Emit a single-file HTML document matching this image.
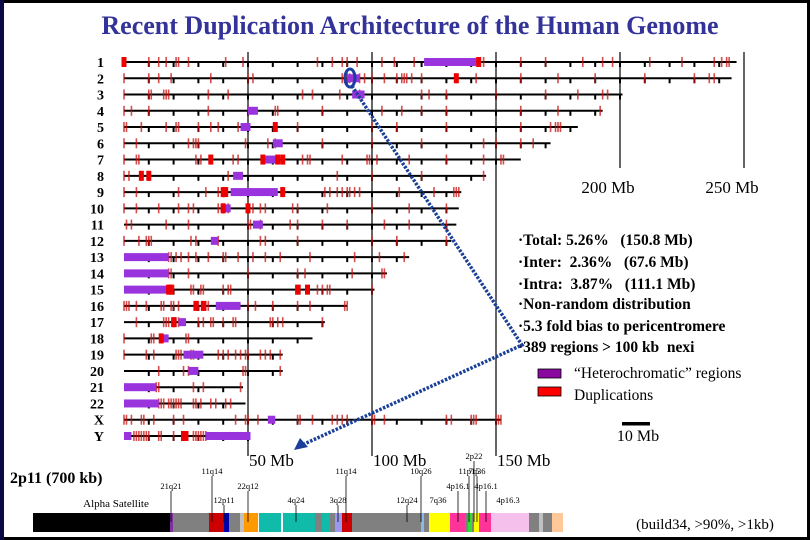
<!DOCTYPE html>
<html><head><meta charset="utf-8"><style>
body{margin:0;background:#fff}
svg{display:block}
text{font-family:"Liberation Serif",serif;white-space:pre}
</style></head><body>
<svg id="chart" width="810" height="540" viewBox="0 0 810 540" xmlns="http://www.w3.org/2000/svg" xml:space="preserve">
<rect x="1.5" y="1.5" width="807" height="537" fill="#fff" stroke="#000" stroke-width="3"/>
<rect x="0" y="0" width="4" height="540" fill="#0a0a40"/>
<text x="410" y="34" text-anchor="middle" font-size="26" font-weight="bold" fill="#333399">Recent Duplication Architecture of the Human Genome</text>
<g id="grid"></g>
<g id="chroms"></g>
<g font-size="15.5" font-weight="bold" fill="#000">
<text x="518" y="245">·Total: 5.26%   (150.8 Mb)</text>
<text x="518" y="267">·Inter:  2.36%   (67.6 Mb)</text>
<text x="518" y="289">·Intra:  3.87%   (111.1 Mb)</text>
<text x="518" y="309">·Non-random distribution</text>
<text x="518" y="331">·5.3 fold bias to pericentromere</text>
<text x="518" y="352">·389 regions &gt; 100 kb  nexi</text>
</g>
<g font-size="15.5">
<rect x="538" y="369" width="23" height="9" fill="#8a0aa0" stroke="#000" stroke-width="0.8"/>
<text x="574" y="378">“Heterochromatic” regions</text>
<rect x="538" y="387" width="23" height="9" fill="#ff0000" stroke="#000" stroke-width="0.8"/>
<text x="574" y="400">Duplications</text>
</g>
<rect x="622" y="422" width="28" height="3.5" fill="#000"/>
<text x="638" y="441" text-anchor="middle" font-size="16">10 Mb</text>
<text x="10" y="483" font-size="16" font-weight="bold">2p11 (700 kb)</text>
<text x="116" y="507" text-anchor="middle" font-size="11">Alpha Satellite</text>
<text x="705" y="529" text-anchor="middle" font-size="15">(build34, &gt;90%, &gt;1kb)</text>
<g id="bar"></g>
<g id="arrows"></g>
</svg>
<script>
const chromNames=["1","2","3","4","5","6","7","8","9","10","11","12","13","14","15","16","17","18","19","20","21","22","X","Y"];
const chromLengths=[247,245,201,193,183,172,160,146,136,135,134,132,115,106,101,90,81,76,64,64,48,49,152,51];
const dupTicks=[
[0,10,14,17,21,22,26,41,48,78,84,88,90,94,104,109,117,145,160,170,185,193,197,212,225,238,241,243,244],
[0,10,14,19,35,50,52,88,89,90,91,95,97,100,105,110,112,113,114,116,120,134,142,160,175,190,210,230,236,238],
[0,10,11,16,17,18,34,42,72,76,87,95,120,123,130,150,170,183,193,195],
[0,3,10,34,50,61,62,80,104,112,120,130,160,175,192],
[0,1,7,17,21,22,30,35,38,46,61,70,100,110,130,160,172,174,175,176],
[0,5,26,28,29,30,49,58,61,80,100,120,145,150,160,165],
[0,5,6,29,31,35,44,46,56,62,64,72,74,75,88,98,99,102,115,130,145,152,153],
[0,2,7,10,42,86,100,120,145],
[0,5,22,33,38,40,64,81,83,86,88,90,91,93,95,111,125,133,134,135],
[0,5,14,22,26,28,38,40,42,50,52,55,57,68,70,82,100,115,130],
[1,3,17,26,50,51,55,67,70,80,90,105,115,130],
[0,6,9,10,11,27,29,38,55,57,70,100,110,130],
[18,19,21,23,26,29,34,40,41,46,52,57,63,75,93,103,113],
[18,19,26,50,70,73,92,104,105],
[18,19,20,27,28,31,32,40,42,43,70,71,74,78,80,82,83,100],
[0,1,2,5,9,15,16,19,20,22,29,30,32,33,34,50,53,60,70,75,89,90],
[5,16,17,18,20,21,22,30,32,35,36,40,44,45,59,60,62,64,80],
[0,11,12,15,25,26],
[0,9,12,21,22,23,27,28,38,40,42,45,47,49,50,55,57,59,63],
[14,24,26,48,49,63],
[13,14,28,32,47],
[14,15,16,18,19,20,21,22,23,28,29,31,35,37,41,43],
[0,1,3,7,8,12,20,24,45,49,50,54,70,71,76,84,86,88,90,100,101,105,130,132,140,141,142,150,151,152],
[4,5,6,7,8,9,10,14,15,20,24,28,29,30,31,32,33]
];
const dupBlocks=[[0,143],[134],[],[],[61],[],[35,56,62,64],[7,10],[40,41,64],[40,50],[],[],[],[],[18,19,70,74],[29,32],[20],[15],[],[],[],[],[],[24,25]];
const heteroSegments=[[[121,142]],[[90,95]],[[92,97]],[[50,54]],[[47,51]],[[60,64]],[[57,62]],[[44,48]],[[43,62]],[[39,43]],[[52,56]],[[35,38]],[[0,18]],[[0,18]],[[0,18]],[[37,47]],[[22,25]],[[15,18]],[[24,32]],[[26,30]],[[0,13]],[[0,14]],[[58,61]],[[0,3],[33,51]]];
const axisLabels=["50 Mb","100 Mb","150 Mb","200 Mb","250 Mb"];
const axisValues=[50,100,150,200,250];
const barSegments=[
["#000000",0,137],["#8030a0",137,140],["#808080",140,176],["#cc0000",176,191],["#0000aa",191,196],["#808080",196,207],["#c0c0c0",207,211],["#ff9900",211,225],["#11bbaa",226,248],["#11bbaa",250,282],["#808080",282,289],["#11bbaa",289,297],["#808080",297,302],["#9999ee",302,309],["#cc0000",309,319],["#808080",319,388],["#8ab8e8",388,391],["#808080",391,396],["#ffff00",396,417],["#ff3399",417,432],["#808080",432,435],["#33dd33",435,439],["#808080",439,441],["#ffff00",441,446],["#ff3399",446,458],["#f5c0ec",458,496],["#808080",496,506],["#c0c0c0",506,510],["#808080",510,519],["#ffc899",519,530]];
const barLabels=["21q21","11q14","12p11","22q12","4q24","3q28","11q14","12q24","10q26","7q36","4p16.1","11p15","2p22","7q36","4p16.1","4p16.3"];
const barLabelPos=[138,179,191,215,263,305,313,374,388,405,425,436,441,444,453,475];
const barLabelRow=[1,0,2,1,2,2,0,2,0,2,1,0,-1,0,1,2];
const barLabelLine=[true,true,true,true,true,true,true,true,true,false,true,true,true,true,true,false];

const NS="http://www.w3.org/2000/svg";
const X0=124,PX=2.48,Y0=62,DY=16.26;
const xs=v=>X0+v*PX, ys=i=>Y0+i*DY;
function mk(tag,attrs,parent){const e=document.createElementNS(NS,tag);for(const k in attrs)e.setAttribute(k,attrs[k]);parent.appendChild(e);return e;}
const grid=document.getElementById('grid'),ch=document.getElementById('chroms'),bar=document.getElementById('bar'),arr=document.getElementById('arrows');
axisValues.forEach((v,i)=>{
  const big=v>=200;
  const l=mk('line',{x1:xs(v),x2:xs(v),y1:52,y2:big?168:456,stroke:'#000','stroke-width':1.2},grid);
  
  
  const t=mk('text',{x:xs(v)+(big?-12:1),y:big?193:466,'font-size':17,'text-anchor':big?'middle':'start'},grid);
  t.textContent=axisLabels[i];
  
  
});
chromNames.forEach((n,i)=>{
  const y=ys(i);
  const g=mk('g',{},ch);
  
  
  const lb=mk('text',{x:104,y:y+5,'text-anchor':'end','font-size':14,'font-weight':'bold'},g);
  lb.textContent=n;
  
  
  mk('line',{x1:xs(0),x2:xs(chromLengths[i]),y1:y,y2:y,stroke:'#000','stroke-width':2},g);
  for(let m=10;m<chromLengths[i];m+=10){mk('rect',{x:xs(m)-1,y:y,width:2,height:5,fill:'#000'},g);}
  dupTicks[i].forEach(m=>{const r=mk('rect',{x:xs(m)-0.8,y:y-5,width:1.6,height:10,fill:'#cc1010',opacity:0.75},g);
    
    });
  heteroSegments[i].forEach(s=>{const r=mk('rect',{x:xs(s[0]),y:y-4,width:(s[1]-s[0])*PX,height:8,fill:'#9933dd'},g);
    
    });
  dupBlocks[i].forEach(m=>{const r=mk('rect',{x:xs(m)-2.5,y:y-5,width:5,height:10,fill:'#ee0000'},g);
    
    });
});
const BX=33;
barSegments.forEach(s=>{const r=mk('rect',{x:BX+s[1],y:513,width:s[2]-s[1],height:19,fill:s[0]},bar);
  
  });
const rowY=[474,489,503];
barLabels.forEach((t,i)=>{
  const x=BX+barLabelPos[i], row=barLabelRow[i], ty=row<0?459:rowY[row];
  if(barLabelLine[i]) mk('line',{x1:x,x2:x,y1:ty+2,y2:522,stroke:'#000','stroke-width':0.8},bar);
  const e=mk('text',{x:x,y:ty,'text-anchor':'middle','font-size':8.5},bar);
  e.textContent=t;
  
  
});
const a1=mk('ellipse',{cx:350,cy:78,rx:5,ry:9,fill:'none',stroke:'#1a3fa0','stroke-width':3},arr);


const p=mk('polyline',{points:'352,86 522,345 302,445',fill:'none',stroke:'#1a3f99','stroke-width':3.5,'stroke-dasharray':'2.5 1.5'},arr);


const h=mk('polygon',{points:'294,450 300,438 308,447',fill:'#1a3f99'},arr);


</script>
</body></html>
